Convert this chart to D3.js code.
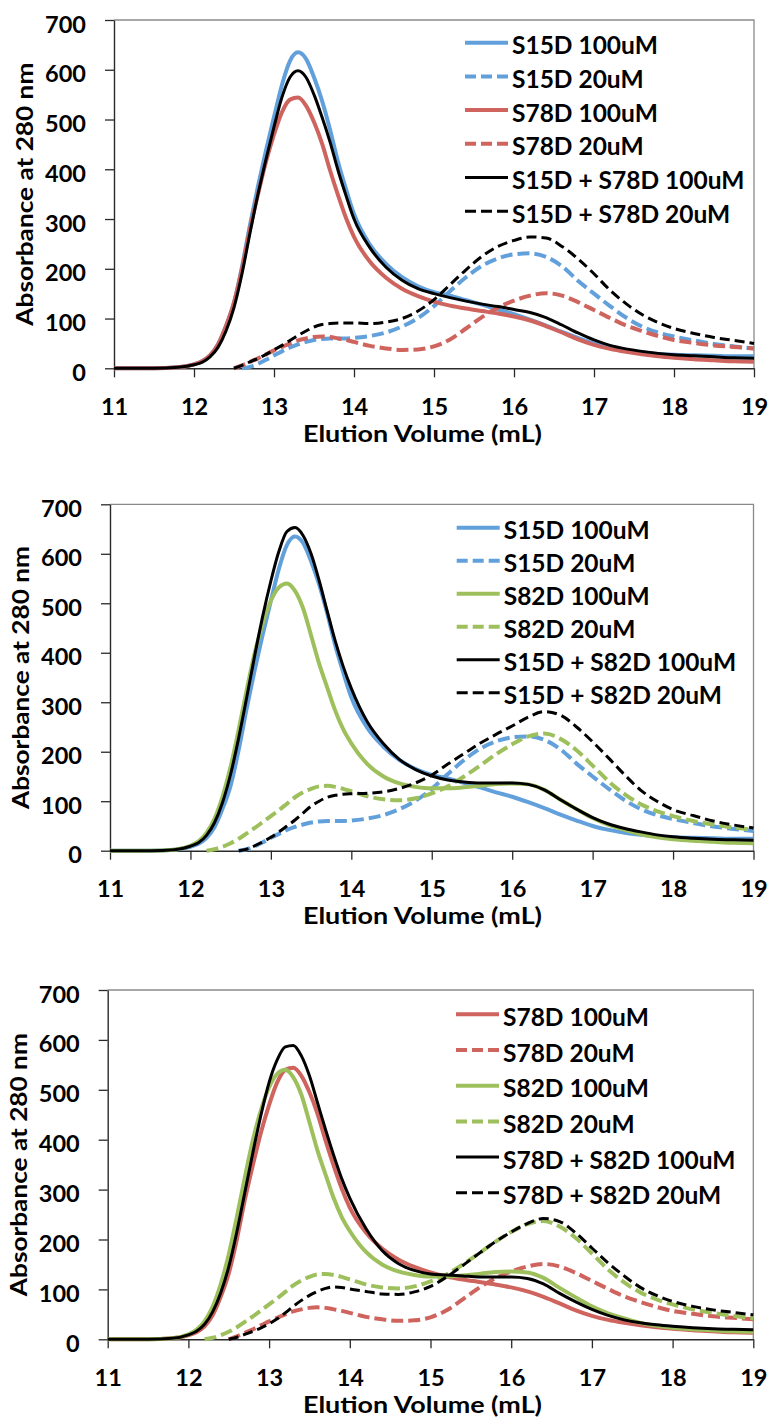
<!DOCTYPE html>
<html>
<head>
<meta charset="utf-8">
<script src="https://cdn.jsdelivr.net/npm/d3@7/dist/d3.min.js"></script>
<style>
  html, body { margin: 0; padding: 0; background: #ffffff; }
  svg { display: block; }
  text { font-family: Lato, "Open Sans", "DejaVu Sans", sans-serif; font-weight: 700; fill: #000; }
</style>
</head>
<body>
<svg id="chart" width="770" height="1418"></svg>
<script>
// Elution volume grid (mL) shared by every trace
const volumes = [11, 11.5, 11.8, 12.0, 12.1, 12.2, 12.3, 12.4, 12.5, 12.6, 12.7, 12.8, 12.9,
  13.0, 13.1, 13.2, 13.3, 13.4, 13.5, 13.6, 13.7, 13.8, 13.9, 14.0, 14.2, 14.4, 14.6, 14.8,
  15.0, 15.2, 15.4, 15.6, 15.8, 16.0, 16.2, 16.4, 16.6, 16.8, 17.0, 17.2, 17.4, 17.6, 17.8,
  18.0, 18.25, 18.5, 18.75, 19.0];

// Absorbance at 280 nm (null = below baseline, not drawn)
const s15d100 = [0, 0, 2, 8, 14, 26, 48, 85, 132, 204, 288, 366, 438, 505, 570, 618, 635, 622,
  585, 538, 480, 415, 360, 310, 248, 210, 183, 165, 153, 146, 137, 128, 118, 109, 98, 86, 73,
  61, 50, 42, 36, 32, 29, 27, 26, 25, 24, 24];
const s15d20 = [null, null, null, null, null, null, null, null, null, 0, 3, 9, 17, 26, 34, 42,
  48, 53, 57, 59, 60, 60, 60, 61, 65, 72, 84, 101, 125, 155, 183, 206, 221, 229, 231, 224, 205,
  176, 150, 125, 102, 84, 72, 64, 56, 49, 44, 40];
const s78d100 = [0, 0, 2, 8, 14, 26, 48, 85, 132, 200, 280, 350, 415, 470, 515, 540, 544, 528,
  495, 452, 398, 348, 302, 264, 214, 182, 160, 145, 134, 126, 120, 115, 110, 104, 96, 85, 72,
  58, 47, 39, 33, 28, 24, 21, 18, 16, 14, 13];
const s78d20 = [null, null, null, null, null, null, null, null, 0, 6, 13, 20, 28, 36, 43, 50,
  56, 60, 63, 64, 63, 60, 57, 53, 45, 40, 37, 38, 44, 58, 80, 103, 122, 136, 146, 151, 146,
  133, 117, 101, 86, 75, 65, 57, 51, 46, 43, 40];
const s82d100 = [0, 0, 2, 10, 19, 36, 65, 110, 170, 245, 325, 400, 460, 505, 532, 540, 525, 490,
  435, 378, 330, 283, 245, 217, 175, 150, 136, 129, 126, 126, 128, 131, 135, 136, 134, 123,
  103, 84, 66, 52, 42, 33, 27, 23, 20, 18, 16, 15];
const s82d20 = [null, null, null, null, null, 0, 3, 8, 15, 24, 35, 46, 58, 70, 82, 95, 108, 118,
  125, 130, 131, 129, 125, 120, 110, 104, 102, 106, 116, 130, 150, 172, 195, 215, 231, 237,
  226, 203, 172, 140, 114, 94, 80, 70, 60, 53, 47, 42];
const s15d78d100 = [0, 0, 2, 7, 12, 23, 42, 75, 122, 190, 272, 350, 420, 485, 545, 585, 598,
  585, 550, 505, 455, 398, 347, 300, 242, 203, 177, 160, 150, 142, 135, 129, 124, 118, 112,
  102, 87, 71, 57, 46, 39, 34, 30, 27, 25, 23, 21, 20];
const s15d78d20 = [null, null, null, null, null, null, null, null, 0, 6, 13, 20, 28, 37, 46, 56,
  66, 75, 83, 88, 90, 91, 91, 91, 90, 93, 100, 115, 138, 168, 198, 225, 245, 257, 264, 262,
  245, 220, 190, 157, 130, 108, 92, 80, 70, 62, 56, 50];
const s15d82d100 = [0, 0, 2, 9, 16, 31, 57, 98, 155, 228, 310, 395, 475, 545, 605, 645, 653,
  637, 600, 546, 484, 424, 372, 328, 260, 216, 184, 164, 151, 143, 139, 137, 137, 137, 134,
  123, 103, 84, 67, 54, 45, 38, 32, 28, 25, 23, 22, 21];
const s15d82d20 = [null, null, null, null, null, null, null, null, null, 0, 3, 10, 18, 27, 38,
  50, 62, 76, 90, 100, 108, 112, 114, 115, 116, 119, 126, 137, 153, 175, 196, 217, 235, 252,
  270, 281, 274, 250, 220, 187, 153, 122, 100, 83, 71, 60, 52, 46];
const s78d82d100 = [0, 0, 2, 9, 16, 30, 55, 93, 145, 215, 295, 375, 450, 515, 560, 586, 589,
  568, 528, 474, 420, 369, 322, 283, 222, 178, 152, 138, 131, 129, 127, 125, 125, 125, 122,
  111, 92, 75, 60, 48, 39, 33, 29, 26, 23, 21, 20, 19];
const s78d82d20 = [null, null, null, null, null, null, null, null, 0, 4, 10, 16, 23, 31, 41, 53,
  66, 78, 88, 96, 102, 105, 104, 101, 96, 91, 90, 95, 106, 125, 148, 172, 195, 215, 232, 242,
  236, 213, 183, 153, 127, 104, 88, 76, 66, 59, 54, 49];

// Axis ticks and titles
const xTicks = [11, 12, 13, 14, 15, 16, 17, 18, 19];
const yTicks = [0, 100, 200, 300, 400, 500, 600, 700];
const xTitle = "Elution Volume (mL)";
const yTitle = "Absorbance at 280 nm";

// Series styling
const COLORS = { s15: "#62a0dc", s78: "#cf645e", s82: "#9ec05c", mix: "#000000" };

const panelSeries = [
  [
    { name: "S15D 100uM", values: s15d100, color: COLORS.s15, dashed: false },
    { name: "S15D 20uM", values: s15d20, color: COLORS.s15, dashed: true },
    { name: "S78D 100uM", values: s78d100, color: COLORS.s78, dashed: false },
    { name: "S78D 20uM", values: s78d20, color: COLORS.s78, dashed: true },
    { name: "S15D + S78D 100uM", values: s15d78d100, color: COLORS.mix, dashed: false },
    { name: "S15D + S78D 20uM", values: s15d78d20, color: COLORS.mix, dashed: true }
  ],
  [
    { name: "S15D 100uM", values: s15d100, color: COLORS.s15, dashed: false },
    { name: "S15D 20uM", values: s15d20, color: COLORS.s15, dashed: true },
    { name: "S82D 100uM", values: s82d100, color: COLORS.s82, dashed: false },
    { name: "S82D 20uM", values: s82d20, color: COLORS.s82, dashed: true },
    { name: "S15D + S82D 100uM", values: s15d82d100, color: COLORS.mix, dashed: false },
    { name: "S15D + S82D 20uM", values: s15d82d20, color: COLORS.mix, dashed: true }
  ],
  [
    { name: "S78D 100uM", values: s78d100, color: COLORS.s78, dashed: false },
    { name: "S78D 20uM", values: s78d20, color: COLORS.s78, dashed: true },
    { name: "S82D 100uM", values: s82d100, color: COLORS.s82, dashed: false },
    { name: "S82D 20uM", values: s82d20, color: COLORS.s82, dashed: true },
    { name: "S78D + S82D 100uM", values: s78d82d100, color: COLORS.mix, dashed: false },
    { name: "S78D + S82D 20uM", values: s78d82d20, color: COLORS.mix, dashed: true }
  ]
];

// Plot frames and legend placement for the three stacked panels
const layouts = [
  { left: 114, right: 754, top: 20, bottom: 368.3, legX: 465, legY: 42.7, legStep: 33.7 },
  { left: 110, right: 753.5, top: 504.3, bottom: 850.7, legX: 456.7, legY: 527.7, legStep: 33 },
  { left: 107.7, right: 753.3, top: 990, bottom: 1339.3, legX: 456, legY: 1014.3, legStep: 35.7 }
];
const TICK_FONT = 23.5, LEGEND_FONT = 24.5, TITLE_FONT = 23;
const X_TITLE_LEN = 239, Y_TITLE_LEN = 263;

const svg = d3.select("#chart");

layouts.forEach((L, pi) => {
  const series = panelSeries[pi];
  const x = d3.scaleLinear().domain([11, 19]).range([L.left, L.right]);
  const y = d3.scaleLinear().domain([0, 700]).range([L.bottom, L.top]);
  const g = svg.append("g");

  // plot-area border (top and right)
  g.append("path")
    .attr("d", `M${L.left},${L.top}H${L.right}V${L.bottom}`)
    .attr("fill", "none").attr("stroke", "#8a8a8a").attr("stroke-width", 1.3);

  // y axis
  const yAxis = g.append("g").attr("transform", `translate(${L.left},0)`)
    .call(d3.axisLeft(y).tickValues(yTicks).tickSize(9).tickPadding(19).tickSizeOuter(0));
  // x axis
  const xAxis = g.append("g").attr("transform", `translate(0,${L.bottom})`)
    .call(d3.axisBottom(x).tickValues(xTicks).tickSize(9).tickPadding(21).tickSizeOuter(0));

  [yAxis, xAxis].forEach(a => {
    a.select(".domain").attr("stroke", "#2a2a2a").attr("stroke-width", 1.4);
    a.selectAll(".tick line").attr("stroke", "#2a2a2a").attr("stroke-width", 1.3);
    a.selectAll(".tick text")
      .attr("font-family", "Lato, 'Open Sans', sans-serif")
      .attr("font-weight", 700)
      .attr("font-size", TICK_FONT)
      .attr("fill", "#000");
  });
  yAxis.selectAll(".tick text").attr("dy", 12);

  // axis titles
  g.append("text")
    .attr("x", 422.5).attr("y", L.bottom + 73.5)
    .attr("text-anchor", "middle")
    .attr("font-size", TITLE_FONT)
    .attr("textLength", X_TITLE_LEN)
    .attr("lengthAdjust", "spacingAndGlyphs")
    .text(xTitle);
  g.append("text")
    .attr("transform", `translate(${L.left - 81},${(L.top + L.bottom) / 2}) rotate(-90)`)
    .attr("text-anchor", "middle")
    .attr("font-size", TITLE_FONT)
    .attr("textLength", Y_TITLE_LEN)
    .attr("lengthAdjust", "spacingAndGlyphs")
    .text(yTitle);

  // traces
  const line = d3.line()
    .defined(d => d[1] !== null)
    .x(d => x(d[0]))
    .y(d => y(d[1]))
    .curve(d3.curveMonotoneX);

  series.forEach(s => {
    const pts = volumes.map((v, i) => [v, s.values[i]]);
    g.append("path")
      .datum(pts)
      .attr("d", line)
      .attr("fill", "none")
      .attr("stroke", s.color)
      .attr("stroke-width", s.color === COLORS.mix ? 3 : 4)
      .attr("stroke-linejoin", "round")
      .attr("stroke-dasharray", s.dashed ? (s.color === COLORS.mix ? "10,5" : "12,5") : null);
  });

  // legend
  const leg = g.append("g");
  series.forEach((s, i) => {
    const ly = L.legY + i * L.legStep;
    leg.append("line")
      .attr("x1", L.legX).attr("x2", L.legX + 43)
      .attr("y1", ly).attr("y2", ly)
      .attr("stroke", s.color)
      .attr("stroke-width", s.color === COLORS.mix ? 3 : 4)
      .attr("stroke-dasharray", s.dashed ? "11,5" : null);
    leg.append("text")
      .attr("x", L.legX + 47).attr("y", ly + 11.6)
      .attr("font-size", LEGEND_FONT)
      .text(s.name);
  });
});
</script>
</body>
</html>
